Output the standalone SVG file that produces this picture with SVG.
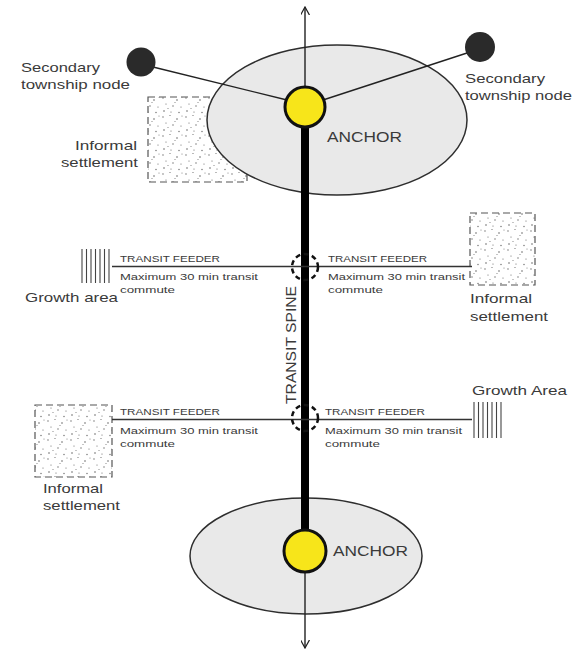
<svg xmlns="http://www.w3.org/2000/svg" width="575" height="653" viewBox="0 0 575 653">
<style>
.t{font-family:"Century Gothic","Liberation Sans","DejaVu Sans",sans-serif;fill:#3a3a3a;}
.lbl{font-size:13.5px;}
.anc{font-size:15px;}
.sm{font-size:9.5px;}
.zone{fill:#e9e9e9;stroke:#2e2e2e;stroke-width:1.5;}
.anchor{fill:#f7e51a;stroke:#111;stroke-width:3;}
.sec{fill:#2a2a2a;}
.sq{fill:url(#stip);stroke:#555;stroke-width:1.2;stroke-dasharray:7 4;}
.feed{stroke:#333;stroke-width:1.6;fill:none;}
.thin{stroke:#222;stroke-width:1.4;fill:none;}
.stop{fill:none;stroke:#111;stroke-width:2.5;stroke-dasharray:5 3.5;}
.gr{stroke:#444;stroke-width:1.1;}
</style>
<defs>
<pattern id="stip" width="23" height="19" patternUnits="userSpaceOnUse">
<rect width="23" height="19" fill="#fff"/>
<g fill="#666">
<circle cx="2" cy="3" r="0.7"/><circle cx="9" cy="1.5" r="0.6"/><circle cx="16" cy="5" r="0.8"/>
<circle cx="5" cy="9" r="0.6"/><circle cx="12" cy="11" r="0.7"/><circle cx="20" cy="12" r="0.6"/>
<circle cx="3" cy="16" r="0.8"/><circle cx="10" cy="17" r="0.6"/><circle cx="18" cy="17.5" r="0.7"/>
<circle cx="14" cy="7.5" r="0.5"/><circle cx="7" cy="13.5" r="0.5"/><circle cx="21" cy="2" r="0.5"/>
</g>
</pattern>
<marker id="ah" viewBox="0 0 10 10" refX="9" refY="5" markerWidth="9" markerHeight="9" markerUnits="userSpaceOnUse" orient="auto">
<path d="M0,0 L9,5 L0,10" fill="none" stroke="#222" stroke-width="1.4"/>
</marker>
</defs>
<rect width="575" height="653" fill="#fff"/>

<g id="informal-settlement-1">
<rect class="sq" x="148" y="97" width="99" height="85"/>
<text class="t lbl" x="137" y="150" text-anchor="end" textLength="62" lengthAdjust="spacingAndGlyphs">Informal</text>
<text class="t lbl" x="138" y="167" text-anchor="end" textLength="77" lengthAdjust="spacingAndGlyphs">settlement</text>
</g>

<g id="zone-top"><ellipse class="zone" cx="337" cy="120" rx="130" ry="75"/></g>
<g id="zone-bottom"><ellipse class="zone" cx="306" cy="556" rx="116" ry="58"/></g>

<g id="informal-settlement-2">
<rect class="sq" x="470" y="213" width="65" height="72"/>
<text class="t lbl" x="470" y="303" textLength="62" lengthAdjust="spacingAndGlyphs">Informal</text>
<text class="t lbl" x="470" y="321" textLength="78" lengthAdjust="spacingAndGlyphs">settlement</text>
</g>

<g id="informal-settlement-3">
<rect class="sq" x="35" y="405" width="77" height="72"/>
<text class="t lbl" x="43" y="493" textLength="60" lengthAdjust="spacingAndGlyphs">Informal</text>
<text class="t lbl" x="43" y="510" textLength="77" lengthAdjust="spacingAndGlyphs">settlement</text>
</g>

<g id="growth-area-1">
<g class="gr">
<line x1="82" y1="249" x2="82" y2="283"/><line x1="86.5" y1="249" x2="86.5" y2="283"/><line x1="91" y1="249" x2="91" y2="283"/><line x1="95.5" y1="249" x2="95.5" y2="283"/><line x1="100" y1="249" x2="100" y2="283"/><line x1="104.5" y1="249" x2="104.5" y2="283"/><line x1="109" y1="249" x2="109" y2="283"/>
</g>
<text class="t lbl" x="25" y="302" textLength="93" lengthAdjust="spacingAndGlyphs">Growth area</text>
</g>

<g id="growth-area-2">
<g class="gr">
<line x1="474" y1="402" x2="474" y2="438"/><line x1="478.5" y1="402" x2="478.5" y2="438"/><line x1="483" y1="402" x2="483" y2="438"/><line x1="487.5" y1="402" x2="487.5" y2="438"/><line x1="492" y1="402" x2="492" y2="438"/><line x1="496.5" y1="402" x2="496.5" y2="438"/><line x1="501" y1="402" x2="501" y2="438"/>
</g>
<text class="t lbl" x="472" y="395" textLength="95" lengthAdjust="spacingAndGlyphs">Growth Area</text>
</g>

<g id="connectors">
<line class="thin" x1="305" y1="90" x2="305" y2="7" marker-end="url(#ah)"/>
<line class="thin" x1="305" y1="570" x2="305" y2="648" marker-end="url(#ah)"/>
<line x1="305" y1="125" x2="305" y2="532" stroke="#000" stroke-width="8"/>
<line class="thin" x1="153" y1="67" x2="287" y2="100"/>
<line class="thin" x1="467" y1="53" x2="323" y2="100"/>
<line class="feed" x1="112" y1="266.5" x2="472" y2="266.5"/>
<line class="feed" x1="112" y1="419.5" x2="472" y2="419.5"/>
<circle class="stop" cx="305" cy="267" r="13"/>
<circle class="stop" cx="305" cy="418" r="13"/>
<text class="t" font-size="15.5" transform="translate(296,345) rotate(-90)" text-anchor="middle" textLength="118" lengthAdjust="spacingAndGlyphs">TRANSIT SPINE</text>
</g>

<g id="feeder-labels">
<text class="t sm" x="120" y="262" textLength="100" lengthAdjust="spacingAndGlyphs">TRANSIT FEEDER</text>
<text class="t sm" x="120" y="280" textLength="138" lengthAdjust="spacingAndGlyphs">Maximum 30 min  transit</text>
<text class="t sm" x="120" y="293" textLength="55" lengthAdjust="spacingAndGlyphs">commute</text>
<text class="t sm" x="328" y="262" textLength="99" lengthAdjust="spacingAndGlyphs">TRANSIT FEEDER</text>
<text class="t sm" x="328" y="280" textLength="137" lengthAdjust="spacingAndGlyphs">Maximum 30 min  transit</text>
<text class="t sm" x="328" y="293" textLength="55" lengthAdjust="spacingAndGlyphs">commute</text>
<text class="t sm" x="120" y="415" textLength="100" lengthAdjust="spacingAndGlyphs">TRANSIT FEEDER</text>
<text class="t sm" x="120" y="434" textLength="138" lengthAdjust="spacingAndGlyphs">Maximum 30 min  transit</text>
<text class="t sm" x="120" y="447" textLength="55" lengthAdjust="spacingAndGlyphs">commute</text>
<text class="t sm" x="325" y="415" textLength="100" lengthAdjust="spacingAndGlyphs">TRANSIT FEEDER</text>
<text class="t sm" x="325" y="434" textLength="137" lengthAdjust="spacingAndGlyphs">Maximum 30 min transit</text>
<text class="t sm" x="325" y="447" textLength="55" lengthAdjust="spacingAndGlyphs">commute</text>
</g>

<g id="anchor-top">
<circle class="anchor" cx="305" cy="107" r="20"/>
<text class="t anc" x="327" y="142" textLength="75" lengthAdjust="spacingAndGlyphs">ANCHOR</text>
</g>

<g id="anchor-bottom">
<circle class="anchor" cx="305" cy="551" r="21"/>
<text class="t anc" x="333" y="556" textLength="75" lengthAdjust="spacingAndGlyphs">ANCHOR</text>
</g>

<g id="secondary-node-left">
<circle class="sec" cx="141" cy="62" r="14.5"/>
<text class="t lbl" x="21" y="72" textLength="79" lengthAdjust="spacingAndGlyphs">Secondary</text>
<text class="t lbl" x="21" y="89" textLength="109" lengthAdjust="spacingAndGlyphs">township node</text>
</g>

<g id="secondary-node-right">
<circle class="sec" cx="480" cy="47" r="15"/>
<text class="t lbl" x="465" y="83" textLength="80" lengthAdjust="spacingAndGlyphs">Secondary</text>
<text class="t lbl" x="465" y="100" textLength="107" lengthAdjust="spacingAndGlyphs">township node</text>
</g>
</svg>
